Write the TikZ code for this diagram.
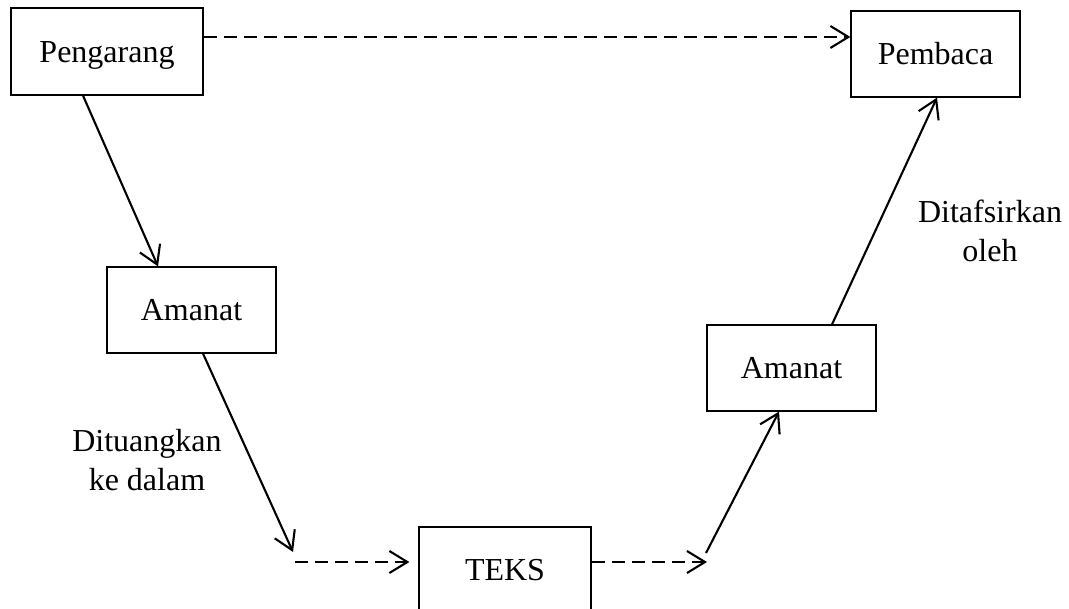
\documentclass[tikz,border=0pt]{standalone}
\usepackage{fontspec}
\setmainfont{Liberation Serif}
\usetikzlibrary{arrows.meta}

\begin{document}
\begin{tikzpicture}[x=0.5pt, y=-0.5pt,
  box/.style={rectangle, draw, line width=0.6pt, minimum width=84.5pt, minimum height=43pt, inner sep=0pt, text height=14.3pt, text depth=3.5pt, font=\fontsize{16}{19.5}\selectfont},
  lbl/.style={align=center, inner sep=0pt, font=\fontsize{16}{19.5}\selectfont},
  arr/.style={-{Straight Barb[length=9pt,width=11pt]}, line width=1.05pt},
  dsh/.style={arr, dash pattern=on 6.5pt off 3.5pt}]
\useasboundingbox (0,0) rectangle (1069,609);
\node [box, minimum width=96pt, minimum height=43.5pt] (pengarang) at (107,51.5) {Pengarang};
\node [box] (pembaca) at (935.5,54) {Pembaca};
\node [box] (amanat1) at (191.5,310) {Amanat};
\node [box] (amanat2) at (791.5,368) {Amanat};
\node [box, minimum width=86pt] (teks) at (505,570) {TEKS};

\node [lbl] (lbl1) at (147,460) {Dituangkan\\ke dalam};
\node [lbl] (lbl2) at (990,231) {Ditafsirkan\\oleh};

\coordinate (d1) at ([yshift=7.25pt]pengarang.east);
\coordinate (c1) at (293,552);
\coordinate (c2) at (295,562);
\coordinate (c3) at (707,562);
\coordinate (c4) at (706,553);

\draw[dsh] (d1) -- (d1 -| pembaca.west);
\draw[arr] ([xshift=-12pt]pengarang.south) -- ([xshift=-16.75pt]amanat1.north);
\draw[arr] ([xshift=5.75pt]amanat1.south) -- (c1);
\draw[dsh, shorten >=4.5pt] (c2) -- (c2 -| teks.west);
\draw[dsh] (teks.east |- c3) -- (c3);
\draw[arr] (c4) -- ([xshift=-6.25pt]amanat2.south);
\draw[arr] ([xshift=20.25pt]amanat2.north) -- ([xshift=0.75pt]pembaca.south);
\end{tikzpicture}
\end{document}
